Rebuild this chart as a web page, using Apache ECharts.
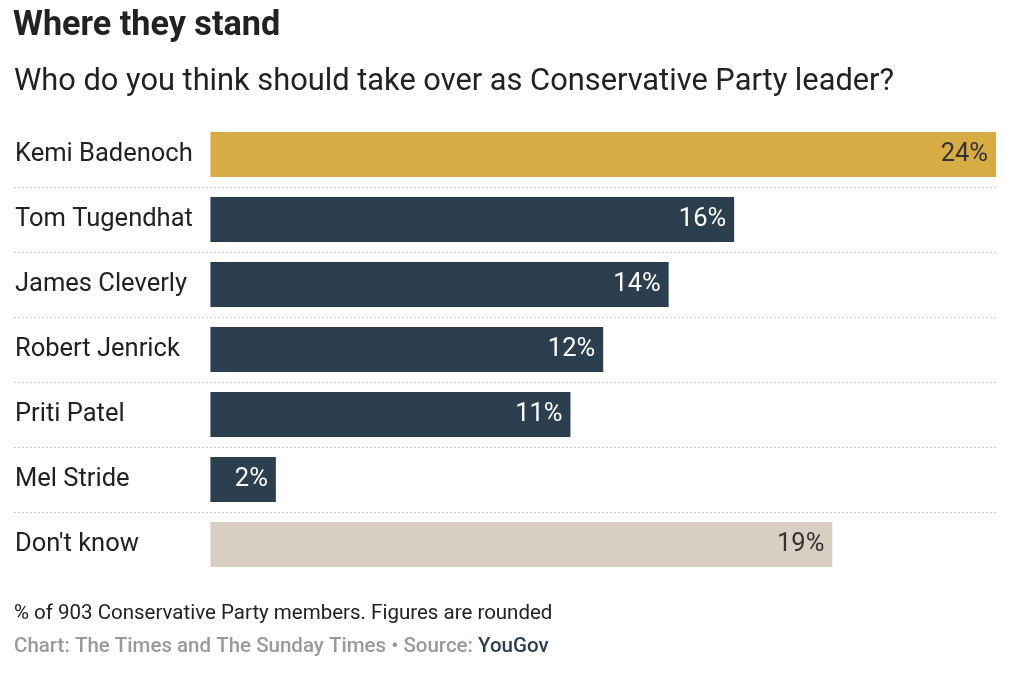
<!DOCTYPE html>
<html><head><meta charset="utf-8">
<script src="https://cdn.jsdelivr.net/npm/echarts@6/dist/echarts.min.js"></script>
<style>html,body{margin:0;padding:0;background:#fff}#c{width:1024px;height:675px}</style>
</head><body><div id="c"></div>
<script>
const categories = ["Kemi Badenoch","Tom Tugendhat","James Cleverly","Robert Jenrick","Priti Patel","Mel Stride","Don't know"];
const values = [24,16,14,12,11,2,19];
const barColors = ["#d8ac45","#2c3f4f","#2c3f4f","#2c3f4f","#2c3f4f","#2c3f4f","#d8cec1"];
const labelColors = ["#333333","#ffffff","#ffffff","#ffffff","#ffffff","#ffffff","#333333"];
const titleText = "Where they stand";
const subtitleText = "Who do you think should take over as Conservative Party leader?";
const noteText = "% of 903 Conservative Party members. Figures are rounded";

const chart = echarts.init(document.getElementById('c'), null, {renderer:'canvas'});
const F = 'Roboto, "Noto Sans", sans-serif';
chart.setOption({
  animation:false,
  backgroundColor:'#fff',
  textStyle:{fontFamily:F},
  graphic:[
    {type:'text', x:13, y:26, style:{text:titleText, font:'bold 34.2px '+F, fill:'#222', verticalAlign:'middle'}},
    {type:'text', x:14, y:82, style:{text:subtitleText, font:'30.8px '+F, fill:'#222', verticalAlign:'middle'}},
    {type:'text', x:14, y:614, style:{text:noteText, font:'20.5px '+F, fill:'#222', verticalAlign:'middle'}},
    {type:'text', x:14, y:647, style:{
      text:'{g|Chart: The Times and The Sunday Times • Source: }{b|YouGov}', verticalAlign:'middle',
      rich:{g:{font:'500 20.5px '+F, fill:'#9a9a9a'}, b:{font:'500 20.5px '+F, fill:'#2c3f4f'}}
    }}
  ],
  grid:{left:14, right:28, top:122, height:455, containLabel:false},
  xAxis:{type:'value', min:-6, max:24, show:false},
  yAxis:{type:'category', inverse:true, data:categories,
    axisLine:{show:false}, axisTick:{show:false},
    axisLabel:{inside:true, margin:1, align:'left', fontSize:25.5, color:'#222', fontFamily:F},
    splitLine:{show:true, showMinLine:false, showMaxLine:false, lineStyle:{type:[2,2], color:'#cfcfcf', width:1}}
  },
  series:[{
    type:'bar', barWidth:45,
    data: values.map((v,i)=>({value:v, itemStyle:{color:barColors[i]}, label:{color:labelColors[i]}})),
    label:{show:true, position:'insideRight', distance:8, formatter:'{c}%', fontSize:25.5, fontFamily:F}
  }]
});
</script></body></html>
